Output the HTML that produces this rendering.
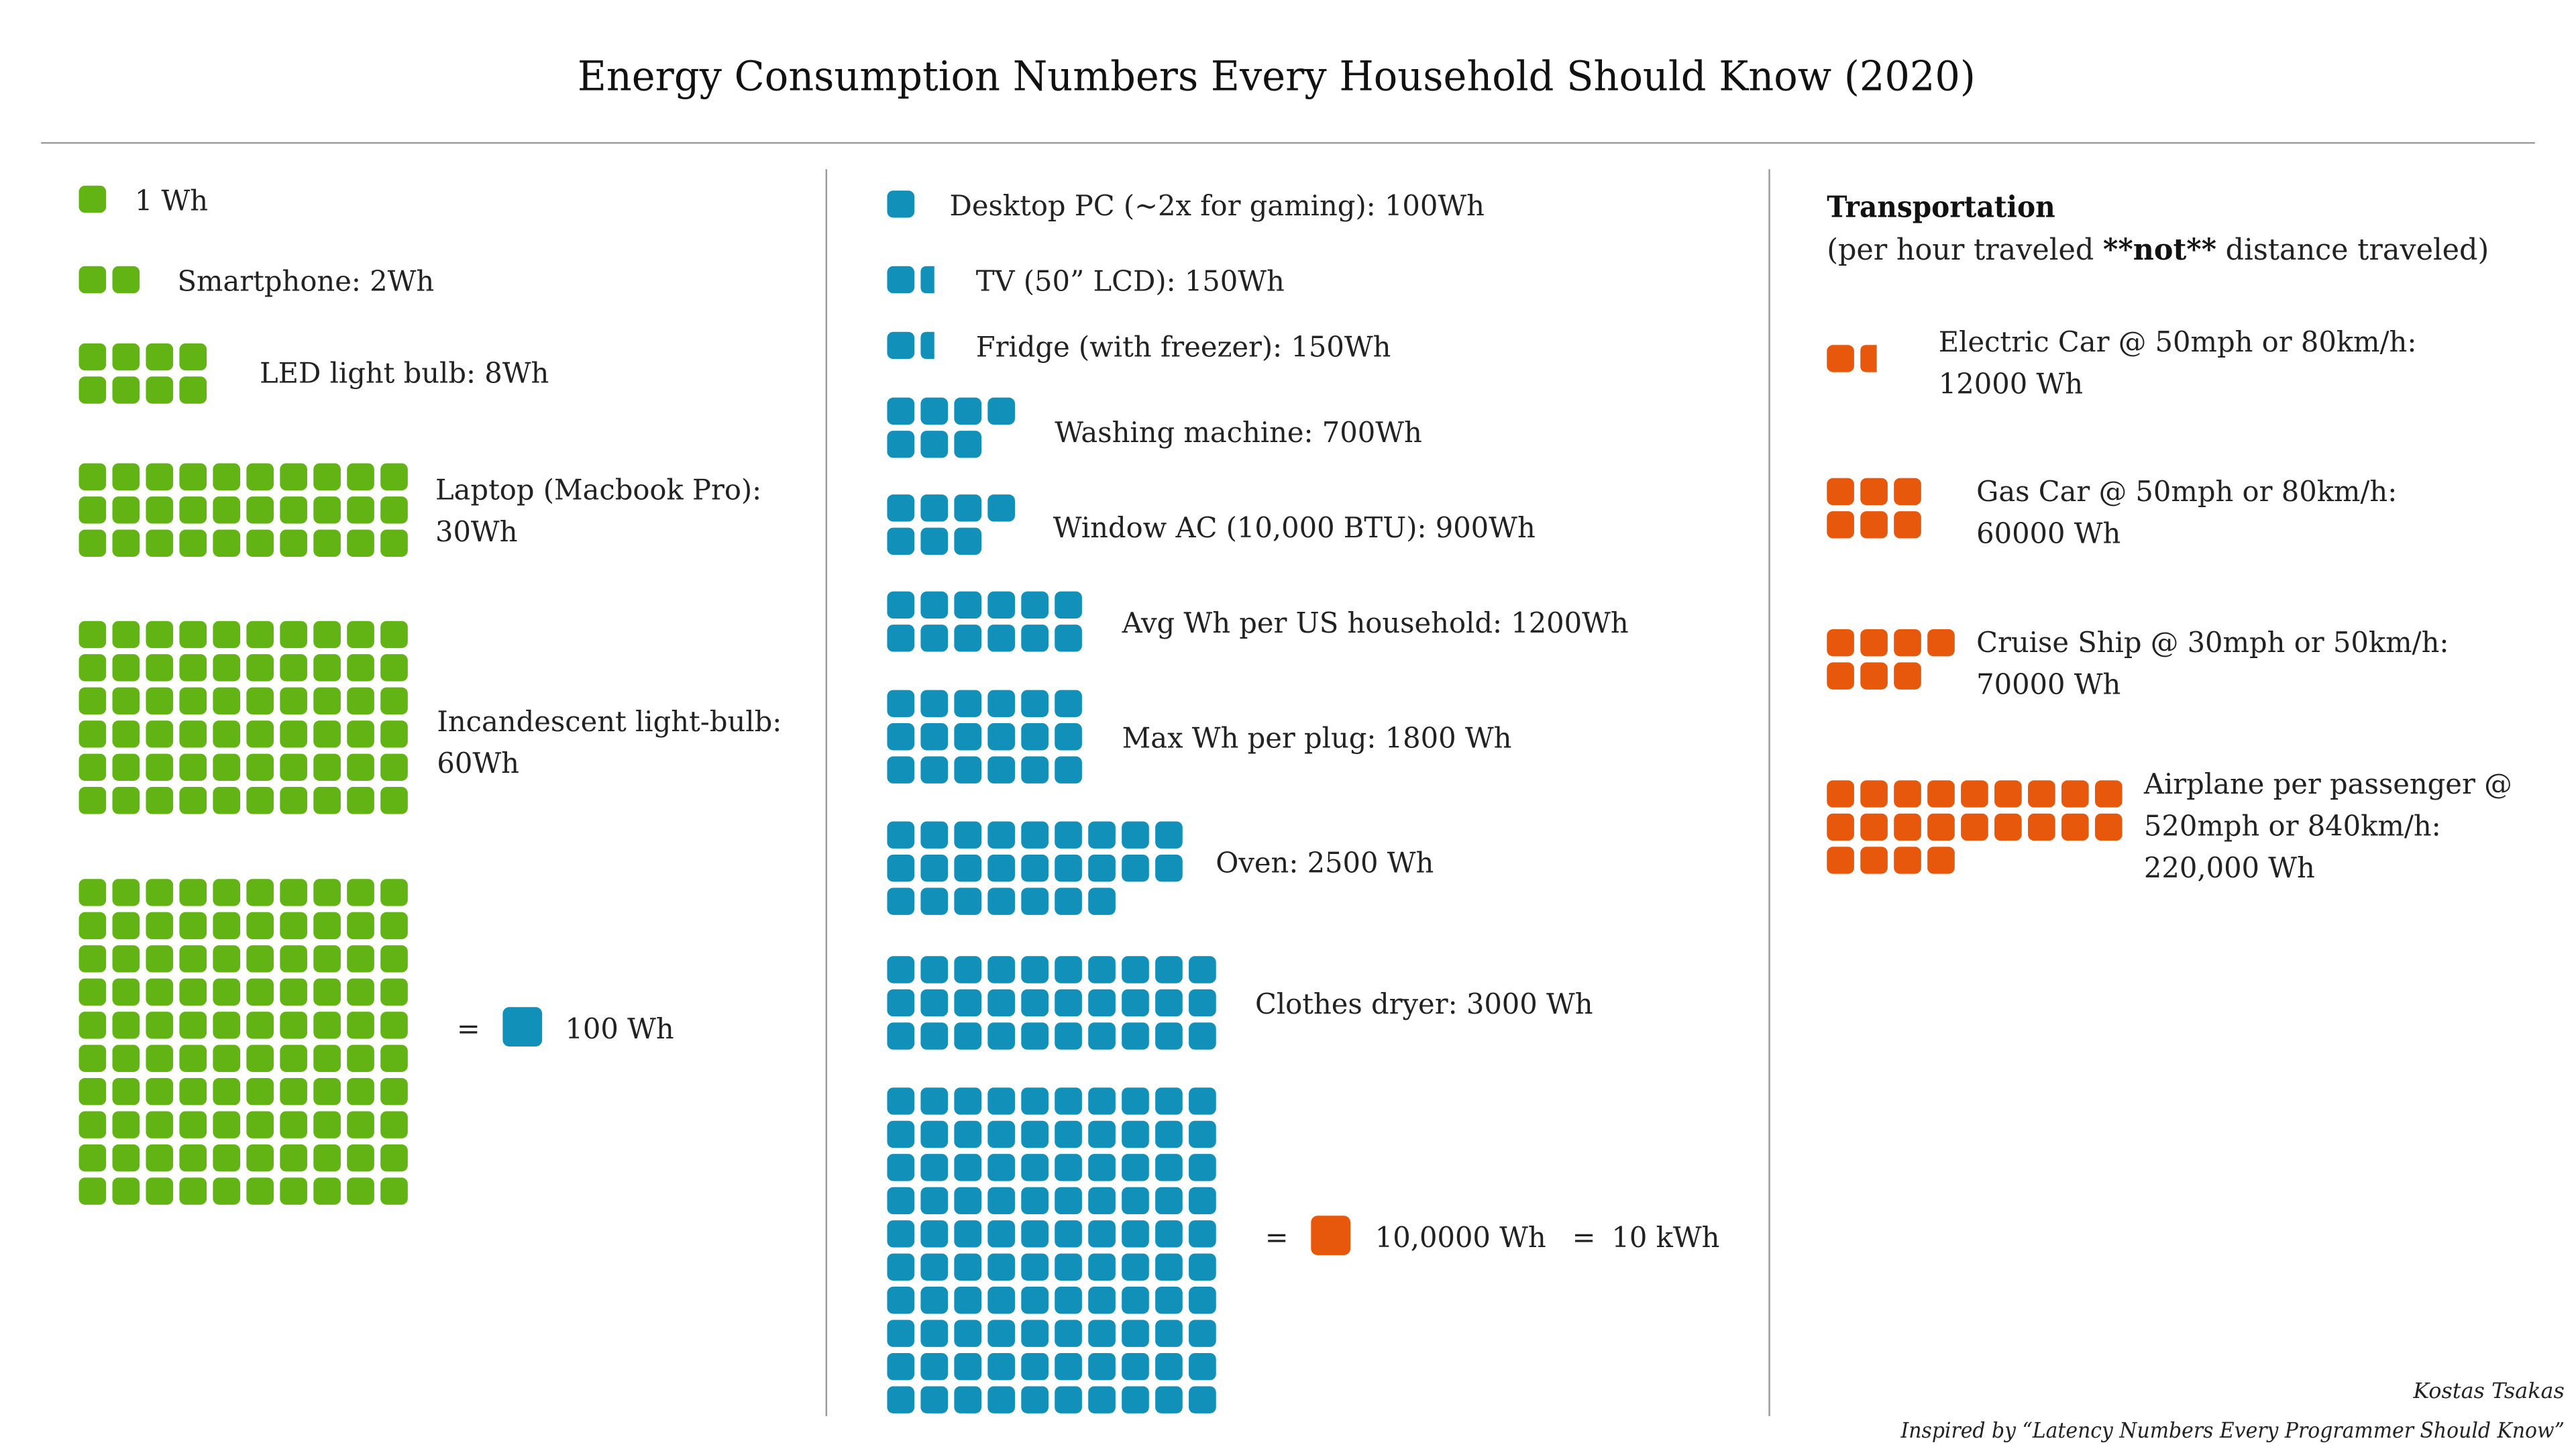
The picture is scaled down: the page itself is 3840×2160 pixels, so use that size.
<!DOCTYPE html>
<html><head><meta charset="utf-8">
<style>
html,body{margin:0;padding:0;background:#fff;}
svg{display:block;}
text{font-family:"DejaVu Serif","Liberation Serif",serif;fill:#222;}
</style></head>
<body>
<svg id="chart" width="3840" height="2160" viewBox="0 0 1568 882" xmlns="http://www.w3.org/2000/svg">
<rect x="0" y="0" width="1568" height="882" fill="#fff"/>
<text x="777" y="55" text-anchor="middle" font-size="25" textLength="851" lengthAdjust="spacingAndGlyphs" style="fill:#111">Energy Consumption Numbers Every Household Should Know (2020)</text>
<line x1="25" y1="87" x2="1543" y2="87" stroke="#9a9a9a" stroke-width="1"/>
<line x1="503" y1="103" x2="503" y2="862" stroke="#9a9a9a" stroke-width="1"/>
<line x1="1077" y1="103" x2="1077" y2="862" stroke="#9a9a9a" stroke-width="1"/>
<g id="marks"></g>
<g id="labels"></g>
<text x="1112" y="132" font-size="18" font-weight="bold" textLength="139" lengthAdjust="spacingAndGlyphs" style="fill:#111">Transportation</text>
<text x="1112" y="158" font-size="18" textLength="403" lengthAdjust="spacingAndGlyphs">(per hour traveled <tspan font-weight="bold" style="fill:#111">**not**</tspan> distance traveled)</text>
<text x="1561" y="851" text-anchor="end" font-size="13" font-style="italic" fill="#333">Kostas Tsakas</text>
<text x="1561" y="875" text-anchor="end" font-size="13" font-style="italic" fill="#333" textLength="404" lengthAdjust="spacingAndGlyphs">Inspired by “Latency Numbers Every Programmer Should Know”</text>
</svg>
<script>
// data
const itemNames = ["1 Wh","Smartphone","LED light bulb","Laptop","Incandescent","100 Wh","Desktop PC","TV","Fridge","Washing machine","Window AC","Avg household","Max per plug","Oven","Clothes dryer","10000 Wh","Electric car","Gas car","Cruise ship","Airplane"];
const itemUnits = [1,2,8,30,60,100,1,1.5,1.5,7,7,12,18,25,30,100,1.6,6,7,22];
const itemCols  = [1,2,4,10,10,10,1,2,2,4,4,6,6,9,10,10,2,3,4,9];
const itemGroup = ["wh","wh","wh","wh","wh","wh","hwh","hwh","hwh","hwh","hwh","hwh","hwh","hwh","hwh","hwh","kwh","kwh","kwh","kwh"];
const itemLines = [
 ["1 Wh"],["Smartphone: 2Wh"],["LED light bulb: 8Wh"],["Laptop (Macbook Pro):","30Wh"],["Incandescent light-bulb:","60Wh"],[],
 ["Desktop PC (~2x for gaming): 100Wh"],["TV (50” LCD): 150Wh"],["Fridge (with freezer): 150Wh"],["Washing machine: 700Wh"],["Window AC (10,000 BTU): 900Wh"],["Avg Wh per US household: 1200Wh"],["Max Wh per plug: 1800 Wh"],["Oven: 2500 Wh"],["Clothes dryer: 3000 Wh"],[],
 ["Electric Car @ 50mph or 80km/h:","12000 Wh"],["Gas Car @ 50mph or 80km/h:","60000 Wh"],["Cruise Ship @ 30mph or 50km/h:","70000 Wh"],["Airplane per passenger @","520mph or 840km/h:","220,000 Wh"]
];
// layout (not data)
const groupColor = {wh:"#62b414", hwh:"#1190b9", kwh:"#e8580c"};
const gridX = [48,48,48,48,48,48, 540,540,540,540,540,540,540,540,540,540, 1112,1112,1112,1112];
const gridY = [113,162,209,282,378,535, 116,162,202,242,301,360,420,500,582,662, 210,291,383,475];
const labelX = [82,108,158,265,266,0, 578,594,594,642,641,683,683,740,764,0, 1180,1203,1203,1305];
const labelY = [128,177,233,304,445,0, 131,177,217,269,327,385,455,531,617,0, 214,305,397,483];
const SW=16.6, SH=16.5, PX=20.4, PY=20.2;
const NS="http://www.w3.org/2000/svg";
const marks=document.getElementById('marks'), labels=document.getElementById('labels');
function xPos(i,c){return gridX[i]+c*PX;}
function yPos(i,r){return gridY[i]+r*PY;}
itemUnits.forEach((u,i)=>{
  const g=document.createElementNS(NS,'g');
  
  
  const n=Math.ceil(u);
  for(let k=0;k<n;k++){
    const c=k%itemCols[i], r=Math.floor(k/itemCols[i]);
    const frac=Math.min(1,u-k);
    const x=xPos(i,c), y=yPos(i,r);
    if(frac>=1){
      const rc=document.createElementNS(NS,'rect');
      
      
      rc.setAttribute('x',x);rc.setAttribute('y',y);rc.setAttribute('width',SW);rc.setAttribute('height',SH);
      rc.setAttribute('rx',3.7);rc.setAttribute('fill',groupColor[itemGroup[i]]);
      g.appendChild(rc);
    } else {
      const w=SW*frac;
      const p=document.createElementNS(NS,'path');
      
      
      const r0=3.7;
      p.setAttribute('d',`M${x+w},${y} H${x+r0} Q${x},${y} ${x},${y+r0} V${y+SH-r0} Q${x},${y+SH} ${x+r0},${y+SH} H${x+w} Z`);
      p.setAttribute('fill',groupColor[itemGroup[i]]);
      g.appendChild(p);
    }
  }
  marks.appendChild(g);
  itemLines[i].forEach((line,j)=>{
    const t=document.createElementNS(NS,'text');
    
    
    t.setAttribute('x',labelX[i]);t.setAttribute('y',labelY[i]+j*25.5);
    t.setAttribute('font-size',17);
    t.textContent=line;
    labels.appendChild(t);
  });
});
function addText(name,x,y,s){const t=document.createElementNS(NS,'text');
  
  
  t.setAttribute('x',x);t.setAttribute('y',y);t.setAttribute('font-size',17);t.textContent=s;labels.appendChild(t);}
function addSq(name,x,y,col){const r=document.createElementNS(NS,'rect');
  
  
  r.setAttribute('x',x);r.setAttribute('y',y);r.setAttribute('width',24);r.setAttribute('height',24);r.setAttribute('rx',4);r.setAttribute('fill',col);labels.appendChild(r);}
addText('equals-sign-1',278,632,'=');
addSq('legend-square-100wh',306,613,groupColor.hwh);
addText('legend-100wh',344,632,'100 Wh');
addText('equals-sign-2',770,759,'=');
addSq('legend-square-10kwh',798,740,groupColor.kwh);
addText('legend-10000wh',837,759,'10,0000 Wh');
addText('equals-sign-3',957,759,'=');
addText('legend-10kwh',981,759,'10 kWh');
</script>
</body></html>
